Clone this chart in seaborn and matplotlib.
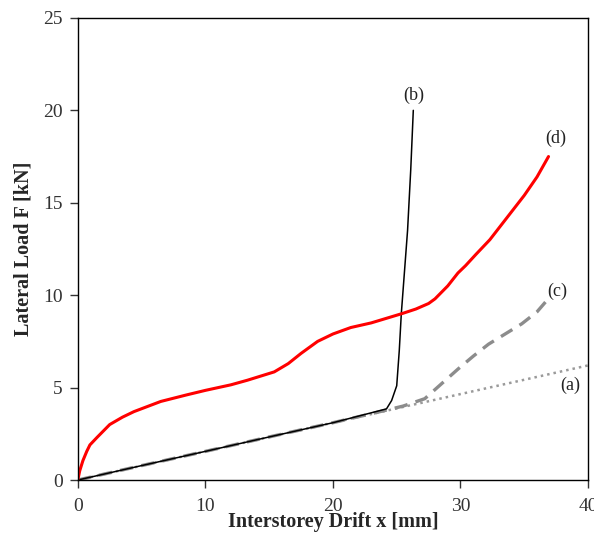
import matplotlib
matplotlib.use("Agg")
import matplotlib.pyplot as plt
import seaborn as sns

# curves: drift x [mm] vs lateral load F [kN]
a_x = [0, 10, 20, 30, 40]
a_y = [0, 1.55, 3.1, 4.65, 6.2]

b_x = [0, 5, 10, 15, 20, 24.2, 24.6, 25.0, 25.2, 25.36, 25.6, 25.85, 26.1, 26.3]
b_y = [0, 0.78, 1.55, 2.33, 3.1, 3.85, 4.3, 5.1, 7.0, 9.0, 11.2, 13.5, 16.8, 20.0]

c_x = [0, 5, 10, 15, 20, 24, 25.5, 27.2, 28.5, 29.8, 31.0, 32.2, 33.5, 34.8, 36.0, 37.0]
c_y = [0, 0.78, 1.55, 2.33, 3.1, 3.75, 4.0, 4.4, 5.2, 6.0, 6.7, 7.35, 7.9, 8.45, 9.1, 9.9]

d_x = [0, 0.15, 0.4, 0.7, 0.95, 1.5, 2.5, 3.5, 4.4, 6.5, 8.5, 10, 12, 13.3, 15.4,
       16.5, 17.5, 18.8, 20, 21.4, 23, 25.4, 26.5, 27.5, 28.0, 29.0, 29.8, 30.4,
       31.2, 32.3, 33.2, 34.1, 35.0, 36.0, 36.9]
d_y = [0, 0.5, 1.05, 1.55, 1.9, 2.3, 3.0, 3.4, 3.7, 4.25, 4.6, 4.85, 5.15, 5.4,
       5.85, 6.3, 6.85, 7.5, 7.9, 8.25, 8.5, 9.0, 9.25, 9.55, 9.8, 10.5, 11.2,
       11.6, 12.2, 13.0, 13.8, 14.6, 15.4, 16.4, 17.5]

labels = ["(a)", "(b)", "(c)", "(d)"]
label_x = [38.6, 26.3, 37.6, 37.5]
label_y = [5.1, 20.8, 10.2, 18.5]

sns.set_style("ticks")
plt.rcParams["font.family"] = ["Liberation Serif", "DejaVu Serif"]

fig = plt.figure(figsize=(5.94, 5.33), dpi=100)
ax = fig.add_axes([0.131, 0.0994, 0.859, 0.867])

sns.lineplot(x=a_x, y=a_y, ax=ax, color="#9a9a9a", lw=1.8, linestyle=(0, (1, 1.6)),
             sort=False, estimator=None)
sns.lineplot(x=c_x, y=c_y, ax=ax, color="#8c8c8c", lw=2.4, linestyle=(0, (4, 2.5)),
             sort=False, estimator=None)
sns.lineplot(x=b_x, y=b_y, ax=ax, color="black", lw=1.1, sort=False, estimator=None)
sns.lineplot(x=d_x, y=d_y, ax=ax, color="#ff0000", lw=2.2, sort=False, estimator=None)

for t, tx, ty in zip(labels, label_x, label_y):
    ax.text(tx, ty, t, fontsize=13, ha="center", va="center", color="#222222")

ax.set_xlim(0, 40)
ax.set_ylim(0, 25)
ax.set_xticks([0, 10, 20, 30, 40])
ax.set_yticks([0, 5, 10, 15, 20, 25])
ax.tick_params(labelsize=14, colors="#333333", length=6, width=1, direction="out")
ax.tick_params(axis="x", pad=7)
ax.tick_params(axis="y", pad=5)
for s in ax.spines.values():
    s.set_visible(True)
    s.set_color("black")
    s.set_linewidth(1.0)

ax.set_xlabel("Interstorey Drift x [mm]", fontsize=14.5, fontweight="bold")
ax.xaxis.set_label_coords(0.5, -(527 - 480) / 462)
ax.xaxis.label.set_va("baseline")
ax.set_ylabel("Lateral Load F [kN]", fontsize=14.5, fontweight="bold")
ax.yaxis.set_label_coords(-(78 - 24) / 510, 0.5)
ax.yaxis.label.set_va("center")

fig.savefig("out.png", dpi=100)
